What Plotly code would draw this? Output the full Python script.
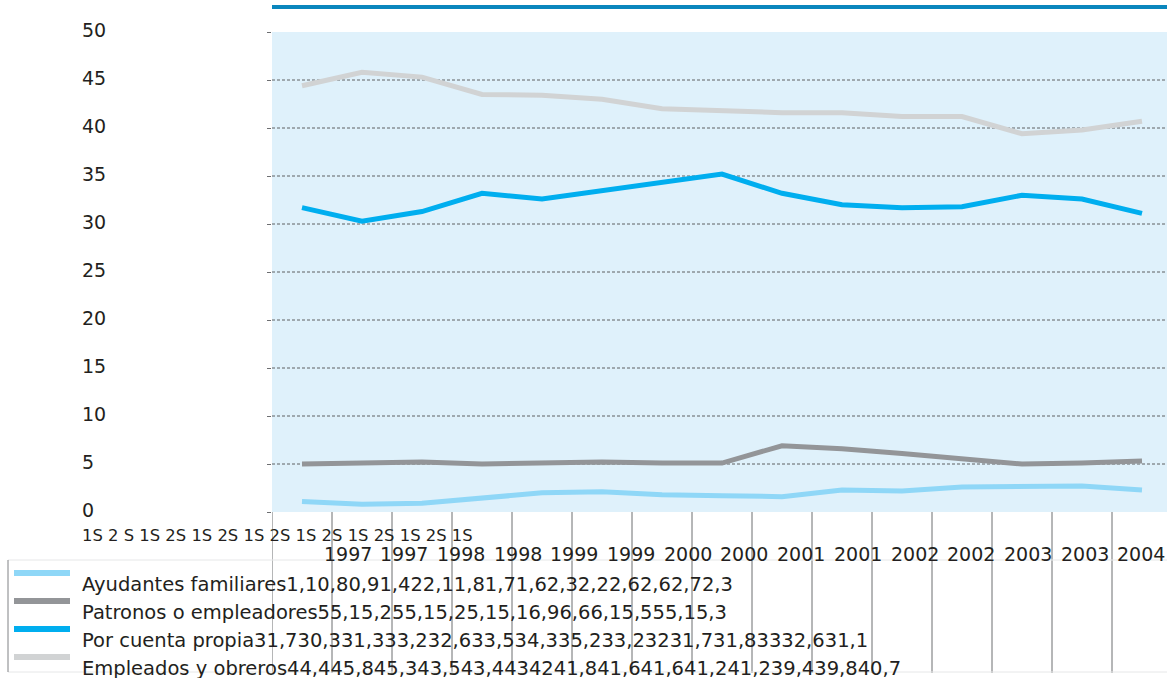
import plotly.graph_objects as go

# Periods (semester + year) used as categories
halves = ["1S", "2 S", "1S", "2S", "1S", "2S", "1S", "2S", "1S", "2S", "1S", "2S", "1S", "2S", "1S"]
years = ["1997", "1997", "1998", "1998", "1999", "1999", "2000", "2000",
         "2001", "2001", "2002", "2002", "2003", "2003", "2004"]

# Share of employed population by occupational category (%)
ayudantes = [1.1, 0.8, 0.9, 1.4, 2, 2.1, 1.8, 1.7, 1.6, 2.3, 2.2, 2.6, 2.6, 2.7, 2.3]
patronos = [5, 5.1, 5.2, 5, 5.1, 5.2, 5.1, 5.1, 6.9, 6.6, 6.1, 5.5, 5, 5.1, 5.3]
cuenta_propia = [31.7, 30.3, 31.3, 33.2, 32.6, 33.5, 34.3, 35.2, 33.2, 32, 31.7, 31.8, 33, 32.6, 31.1]
empleados = [44.4, 45.8, 45.3, 43.5, 43.4, 43, 42, 41.8, 41.6, 41.6, 41.2, 41.2, 39.4, 39.8, 40.7]

y_ticks = [0, 5, 10, 15, 20, 25, 30, 35, 40, 45, 50]

series = [
    ("Ayudantes familiares", ayudantes, "#8fd7f7"),
    ("Patronos o empleadores", patronos, "#939598"),
    ("Por cuenta propia", cuenta_propia, "#00aeef"),
    ("Empleados y obreros", empleados, "#d1d3d4"),
]

W, H = 1167, 678
L, T, B = 272, 32, 166
PLOT_W = W - L
PLOT_H = H - T - B
CAT_PX = 60  # width of one category slot
FONT = "DejaVu Sans"
TXT = "#231f20"


def px_x(px):
    return (px - L) / PLOT_W


def px_y(py):
    return (H - B - py) / PLOT_H


def fmt(v):
    return str(int(v)) if float(v).is_integer() else str(v).replace(".", ",")


n = len(years)
xs = list(range(n))

fig = go.Figure()
for name, vals, color in series:
    fig.add_trace(go.Scatter(
        x=xs, y=vals, mode="lines", name=name,
        line=dict(color=color, width=5), showlegend=False,
    ))

shapes = []
annotations = []

# dashed horizontal gridlines
for v in y_ticks[1:-1]:
    shapes.append(dict(type="line", xref="paper", yref="y", x0=0, x1=1, y0=v, y1=v,
                       line=dict(color="#5f6062", width=1, dash="3px,2px"), layer="below"))

# y-axis labels, left aligned
for v in y_ticks:
    annotations.append(dict(text=str(v), xref="paper", yref="y", x=px_x(80), y=v,
                            xanchor="left", yanchor="middle", yshift=2, showarrow=False,
                            font=dict(family=FONT, size=19, color=TXT)))

# thick rule above the plot
shapes.append(dict(type="line", xref="paper", yref="paper", x0=0, x1=1,
                   y0=px_y(7), y1=px_y(7), line=dict(color="#0a86bd", width=4)))

# category separators running down through the table
for k in range(n + 1):
    shapes.append(dict(type="line", xref="x", yref="paper", x0=k - 0.5, x1=k - 0.5,
                       y0=0, y1=px_y(673), line=dict(color="#6d6e71", width=1)))

# table borders
shapes.append(dict(type="line", xref="paper", yref="paper", x0=px_x(8), x1=1,
                   y0=px_y(560), y1=px_y(560), line=dict(color="#e6e7e8", width=1)))
shapes.append(dict(type="line", xref="paper", yref="paper", x0=px_x(8), x1=1,
                   y0=px_y(672), y1=px_y(672), line=dict(color="#e6e7e8", width=1)))
shapes.append(dict(type="line", xref="paper", yref="paper", x0=px_x(8), x1=px_x(8),
                   y0=px_y(560), y1=px_y(672), line=dict(color="#808285", width=1)))

# semester labels
annotations.append(dict(text=" ".join(halves), xref="paper", yref="paper",
                        x=px_x(80), y=px_y(535), xanchor="left", yanchor="middle",
                        showarrow=False, font=dict(family=FONT, size=16.4, color=TXT)))

# year labels
for k, yr in enumerate(years):
    annotations.append(dict(text=yr, xref="paper", yref="paper",
                            x=px_x(321.5 + 56.7 * k), y=px_y(554), xanchor="left",
                            yanchor="middle", showarrow=False,
                            font=dict(family=FONT, size=19, color=TXT)))

# data table rows with colour keys
for i, (name, vals, color) in enumerate(series):
    sy = 573 + 28 * i
    shapes.append(dict(type="line", xref="paper", yref="paper", x0=px_x(14), x1=px_x(70),
                       y0=px_y(sy), y1=px_y(sy), line=dict(color=color, width=6)))
    annotations.append(dict(text=name + "".join(fmt(v) for v in vals),
                            xref="paper", yref="paper", x=px_x(80), y=px_y(sy + 11),
                            xanchor="left", yanchor="middle", showarrow=False,
                            font=dict(family=FONT, size=19.5, color=TXT)))

fig.update_layout(
    width=W, height=H,
    margin=dict(l=L, r=0, t=T, b=B),
    paper_bgcolor="white",
    plot_bgcolor="#dff1fb",
    shapes=shapes,
    annotations=annotations,
    xaxis=dict(range=[-0.5, -0.5 + PLOT_W / CAT_PX], showgrid=False, zeroline=False,
               showticklabels=False, ticks=""),
    yaxis=dict(range=[0, 50], tickvals=y_ticks, showgrid=False, zeroline=False,
               showticklabels=False, ticks="outside", ticklen=4, tickcolor="#6d6e71",
               tickwidth=1),
)

fig.write_html("out.html")
